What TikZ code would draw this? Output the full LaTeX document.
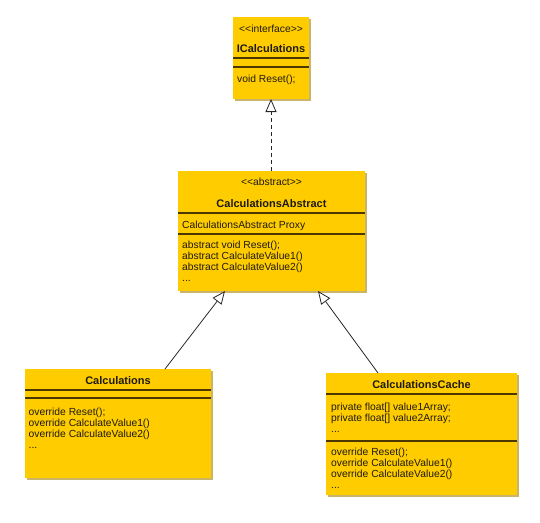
\documentclass[tikz,border=0pt]{standalone}
\usepackage{fontspec}
\setmainfont{Liberation Sans}
\usetikzlibrary{arrows.meta}
\definecolor{umlfill}{HTML}{FFCC00}
\definecolor{umlshadow}{HTML}{C9B46A}
\definecolor{umlline}{HTML}{4A3800}
\definecolor{umltext}{HTML}{1E1A10}
\tikzset{
  classbox/.style={rectangle, fill=umlfill, draw=none, inner sep=0pt, outer sep=0pt, anchor=north west},
  shadowbox/.style={fill=umlshadow},
  divider/.style={draw=umlline, line width=1.1pt},
  txt/.style={inner sep=0pt, anchor=base west, text=umltext, font=\fontsize{10.3}{11}\selectfont},
  stereo/.style={inner sep=0pt, anchor=base, text=umltext, font=\fontsize{10.3}{11}\selectfont},
  ttl/.style={inner sep=0pt, anchor=base, text=umltext, font=\fontsize{11}{12}\selectfont\bfseries},
  realize/.style={draw=black!85, line width=0.8pt, dash pattern=on 4pt off 3pt, -{Triangle[length=13pt,width=11pt,fill=white,line width=0.8pt]}},
  inherit/.style={draw=black!85, line width=0.8pt, -{Triangle[length=13pt,width=11pt,fill=white,line width=0.8pt]}}
}
\begin{document}
\begin{tikzpicture}[x=1pt,y=-1pt]
\useasboundingbox (0,0) rectangle (540,522);
% shadows
\fill[shadowbox] (235,19) rectangle (311,101);
\fill[shadowbox] (180,173) rectangle (367,293);
\fill[shadowbox] (27,371) rectangle (213,480);
\fill[shadowbox] (328,375) rectangle (519,497);
% boxes
\node[classbox, minimum width=76pt, minimum height=82pt] (iface) at (233,17) {};
\node[classbox, minimum width=187pt, minimum height=120pt] (abs) at (178,171) {};
\node[classbox, minimum width=186pt, minimum height=109pt] (calc) at (25,369) {};
\node[classbox, minimum width=191pt, minimum height=122pt] (cache) at (326,373) {};
% interface
\node[stereo] (ifst) at (271,32.5) {<\kern0pt<interface>\kern0pt>};
\node[ttl] (ifttl) at (271,52) {ICalculations};
\draw[divider] (iface.west |- 0,58) -- (iface.east |- 0,58);
\draw[divider] (iface.west |- 0,67) -- (iface.east |- 0,67);
\node[txt] (ifm1) at (237,82.5) {void Reset();};
% abstract
\node[stereo] (absst) at (271.5,185.5) {<\kern0pt<abstract>\kern0pt>};
\node[ttl] (absttl) at (271.5,207) {CalculationsAbstract};
\draw[divider] (abs.west |- 0,213) -- (abs.east |- 0,213);
\node[txt] (absa1) at (182,228.5) {CalculationsAbstract Proxy};
\draw[divider] (abs.west |- 0,234) -- (abs.east |- 0,234);
\node[txt] (absm1) at (182,248.5) {abstract void Reset();};
\node[txt] (absm2) at (182,259.5) {abstract CalculateValue1()};
\node[txt] (absm3) at (182,270.5) {abstract CalculateValue2()};
\node[txt] (absm4) at (182,281.5) {...};
% calculations
\node[ttl] (calcttl) at (118,384) {Calculations};
\draw[divider] (calc.west |- 0,390) -- (calc.east |- 0,390);
\draw[divider] (calc.west |- 0,398) -- (calc.east |- 0,398);
\node[txt] (calcm1) at (28.5,415.5) {override Reset();};
\node[txt] (calcm2) at (28.5,426.5) {override CalculateValue1()};
\node[txt] (calcm3) at (28.5,437.5) {override CalculateValue2()};
\node[txt] (calcm4) at (28.5,448.5) {...};
% cache
\node[ttl] (cachettl) at (421.5,388) {CalculationsCache};
\draw[divider] (cache.west |- 0,394) -- (cache.east |- 0,394);
\node[txt] (cachea1) at (331,410.5) {private float[] value1Array;};
\node[txt] (cachea2) at (331,421.5) {private float[] value2Array;};
\node[txt] (cachea3) at (331,432.5) {...};
\draw[divider] (cache.west |- 0,441) -- (cache.east |- 0,441);
\node[txt] (cachem1) at (331,455.5) {override Reset();};
\node[txt] (cachem2) at (331,466.5) {override CalculateValue1()};
\node[txt] (cachem3) at (331,477.5) {override CalculateValue2()};
\node[txt] (cachem4) at (331,488.5) {...};
% connectors
\draw[realize] (abs.north -| iface.south) -- (iface.south);
\draw[inherit] ([xshift=47pt]calc.north) -- ([xshift=-46.5pt]abs.south);
\draw[inherit] ([xshift=-43.5pt]cache.north) -- ([xshift=46.5pt]abs.south);
\end{tikzpicture}
\end{document}
